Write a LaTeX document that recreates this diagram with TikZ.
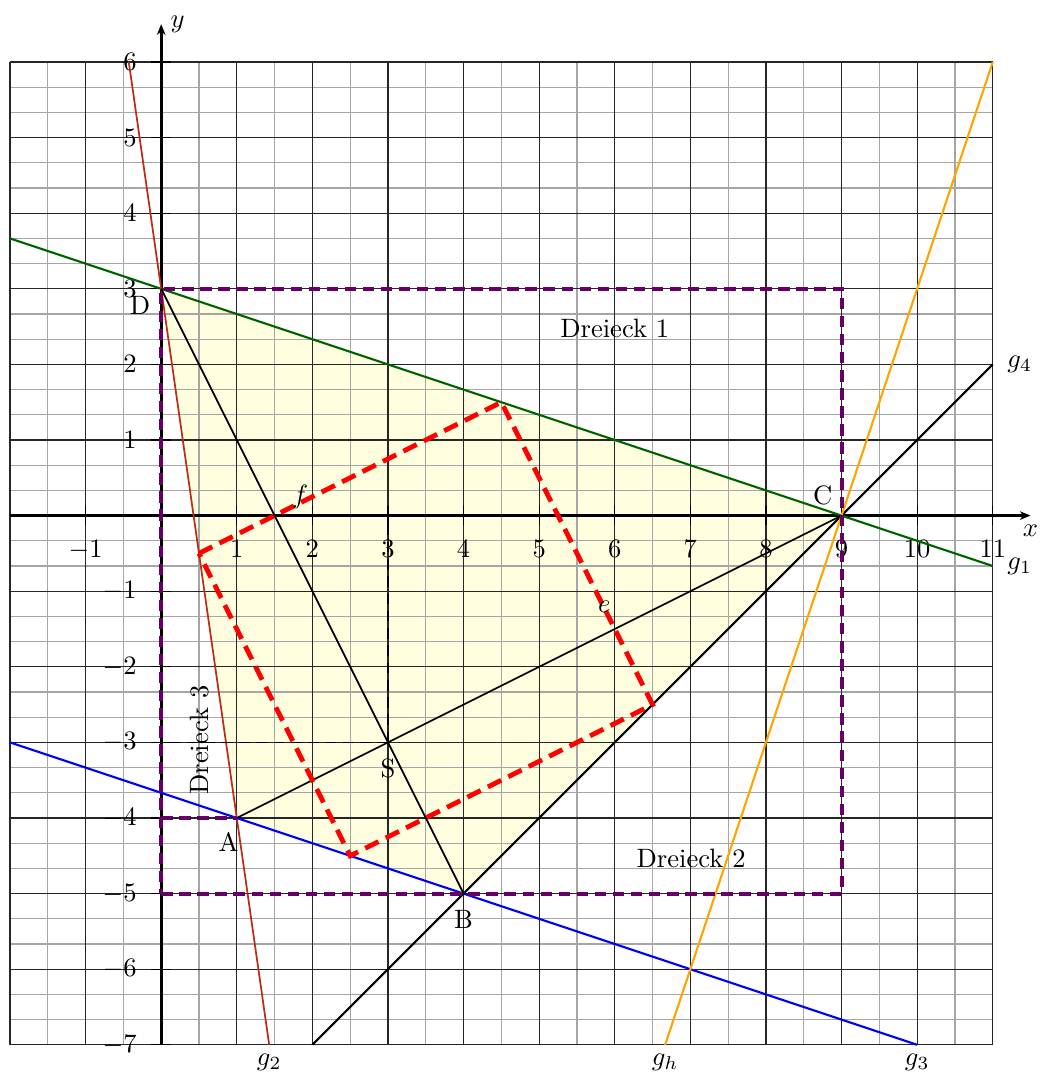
\documentclass[tikz,border=0pt]{standalone}
\usetikzlibrary{arrows.meta}
\definecolor{gbrown}{RGB}{185,45,25}
\definecolor{ggreen}{RGB}{0,100,0}
\definecolor{gorange}{RGB}{255,165,0}
\definecolor{gpurple}{RGB}{102,0,102}
\definecolor{fillc}{RGB}{255,255,224}
\begin{document}
\begin{tikzpicture}[x=1cm,y=1cm,
  minorgrid/.style={draw=black!35,line width=0.5pt},
  majorgrid/.style={draw=black!85,line width=0.5pt},
  axis/.style={line width=1pt,-{Stealth[length=4pt,width=3.2pt,inset=1.2pt]}},
  tickmark/.style={line width=0.5pt},
  gline/.style={line width=0.8pt},
  tline/.style={line width=0.65pt},
  sdash/.style={line width=0.6pt,dash pattern=on 4pt off 2.5pt},
  pdash/.style={draw=gpurple,line width=1.45pt,dash pattern=on 4.3pt off 2.5pt},
  rdash/.style={draw=red,line width=1.8pt,dash pattern=on 5.6pt off 3pt},
  lab/.style={inner sep=0pt}]
\useasboundingbox (-2.132,-7.413) rectangle (11.624,6.82);

% points
\coordinate (D) at (0,3);
\coordinate (A) at (1,-4);
\coordinate (B) at (4,-5);
\coordinate (C) at (9,0);
\coordinate (S) at (3,-3);

% fill
\fill[fillc] (D) -- (A) -- (B) -- (C) -- cycle;

% grid
\draw[minorgrid,xstep=0.5,ystep=1/3] (-2,-7) grid (11,6);
\draw[majorgrid,step=1] (-2,-7) grid (11,6);

% axes
\coordinate (xs) at (-2,0);
\coordinate (xe) at (11.5,0);
\coordinate (ys) at (0,-7);
\coordinate (ye) at (0,6.5);
\draw[axis] (xs) -- (xe);
\draw[axis] (ys) -- (ye);
\node[below] (xl) at (xe) {$x$};
\node[right] (yl) at (ye) {$y$};
\foreach \i in {-1,1,2,...,11} {
  \draw[tickmark] (\i,0.13) -- (\i,-0.13);
  \node[below] (xt\i) at (\i,-0.2) {$\i$};
}
\foreach \i in {-7,...,-1,1,2,...,6} {
  \draw[tickmark] (0.13,\i) -- (-0.13,\i);
  \node[left] (yt\i) at (-0.2,\i) {$\i$};
}

% lines g
\coordinate (g1a) at (-2,11/3);
\coordinate (g1b) at (11,-2/3);
\coordinate (g2a) at (-3/7,6);
\coordinate (g2b) at (10/7,-7);
\coordinate (g3a) at (-2,-3);
\coordinate (g3b) at (10,-7);
\coordinate (g4a) at (2,-7);
\coordinate (g4b) at (11,2);
\coordinate (gha) at (20/3,-7);
\coordinate (ghb) at (11,6);
\draw[gline,ggreen] (g1a) -- (g1b);
\draw[tline,gbrown] (g2a) -- (g2b);
\draw[gline,blue] (g3a) -- (g3b);
\draw[gline,black] (g4a) -- (g4b);
\draw[gline,gorange] (gha) -- (ghb);
\node[right,xshift=2pt] (lg1) at (g1b) {$g_1$};
\node[below] (lg2) at (g2b) {$g_2$};
\node[below] (lg3) at (g3b) {$g_3$};
\node[right,xshift=2pt] (lg4) at (g4b) {$g_4$};
\node[below] (lgh) at (gha) {$g_h$};

% triangle medians
\draw[tline] (D) -- (B);
\draw[tline] (A) -- (C);

% dashed helpers from S
\coordinate (Sx) at (3,0);
\coordinate (Sy) at (0,-3);
\draw[sdash] (S) -- (Sx);
\draw[sdash] (S) -- (Sy);

% purple rectangle
\coordinate (R1) at (0,-5);
\coordinate (R2) at (9,-5);
\coordinate (R3) at (9,3);
\coordinate (R4) at (0,3);
\coordinate (Ay) at (0,-4);
\draw[pdash] (R1) -- (R2) -- (R3) -- (R4) -- cycle;
\draw[pdash] (Ay) -- (A);

% red square
\coordinate (Q1) at (0.5,-0.5);
\coordinate (Q2) at (4.5,1.5);
\coordinate (Q3) at (6.5,-2.5);
\coordinate (Q4) at (2.5,-4.5);
\draw[rdash] (Q1) -- (Q2) -- (Q3) -- (Q4) -- cycle;

% labels
\node (lf) at (1.84,0.25) {$f$};
\node (le) at (5.86,-1.21) {$e$};
\node (lD) at (-0.28,2.78) {D};
\node (lA) at (0.89,-4.32) {A};
\node (lB) at (4,-5.34) {B};
\node (lS) at (3,-3.34) {S};
\node (lC) at (8.75,0.27) {C};
\node (d1) at (6.0,2.48) {Dreieck 1};
\node (d2) at (7.01,-4.53) {Dreieck 2};
\node[rotate=90] (d3) at (0.51,-2.97) {Dreieck 3};
\end{tikzpicture}
\end{document}
